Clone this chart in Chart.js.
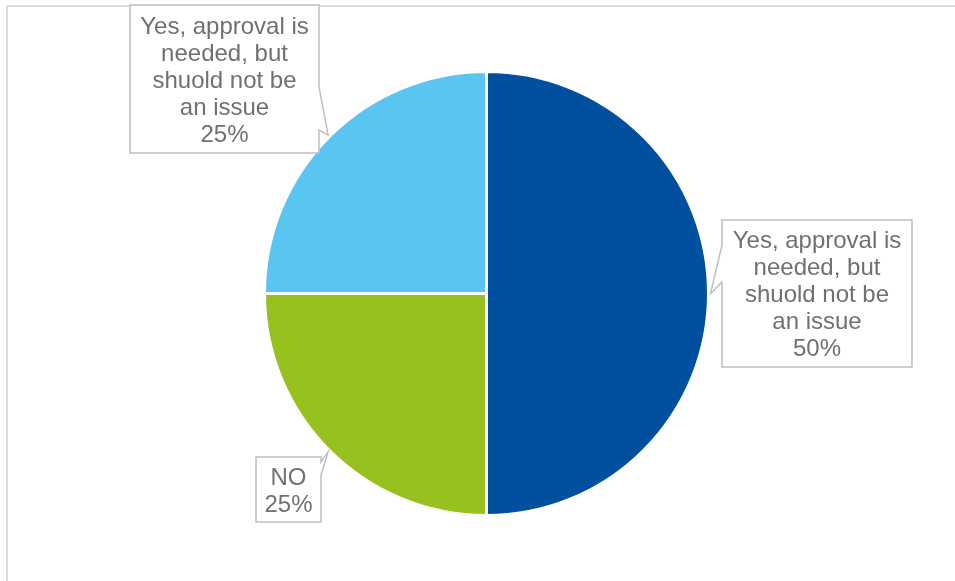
<!DOCTYPE html>
<html>
<head>
<meta charset="utf-8">
<script src="https://cdn.jsdelivr.net/npm/chart.js@4.4.1/dist/chart.umd.min.js"></script>
<style>
  html, body { margin: 0; padding: 0; background: #fff; }
  #wrap { position: relative; width: 955px; height: 581px; }
</style>
</head>
<body>
<div id="wrap"><canvas id="pie" width="955" height="581"></canvas></div>
<script>
// slice data, clockwise from 12 o'clock
const labels = [
  'Yes, approval is needed, but shuold not be an issue',
  'NO',
  'Yes, approval is needed, but shuold not be an issue'
];
const values = [50, 25, 25];
const colors = ['#00509F', '#96C11F', '#5BC5F2'];
// wrapped label text as shown in each callout
const calloutLines = [
  ['Yes, approval is', 'needed, but', 'shuold not be', 'an issue'],
  ['NO'],
  ['Yes, approval is', 'needed, but', 'shuold not be', 'an issue']
];

// callout boxes (layout only): rect + the edge segment where the pointer leaves
const boxes = [
  { x: 722, y: 220, w: 190, h: 147, side: 'left',  n1: 245, n2: 282 },
  { x: 256, y: 457, w: 65,  h: 65,  side: 'right', n1: 462, n2: 475 },
  { x: 130, y: 5,   w: 189, h: 148, side: 'right', n1: 87,  n2: 130 }
];

const frame = {
  id: 'frame',
  beforeDraw(chart) {
    const c = chart.ctx;
    c.save();
    c.strokeStyle = '#DEDEDE';
    c.lineWidth = 2;
    c.strokeRect(7, 6, 1200, 1200);
    c.restore();
  }
};

const callouts = {
  id: 'callouts',
  afterDraw(chart) {
    const c = chart.ctx;
    const meta = chart.getDatasetMeta(0);
    meta.data.forEach((arc, i) => {
      const p = arc.getProps(['x', 'y', 'startAngle', 'endAngle', 'outerRadius'], true);
      const mid = (p.startAngle + p.endAngle) / 2;
      const tx = p.x + Math.cos(mid) * (p.outerRadius + 2);
      const ty = p.y + Math.sin(mid) * (p.outerRadius + 2);
      const b = boxes[i];
      c.save();
      c.beginPath();
      if (b.side === 'left') {
        c.moveTo(b.x, b.y);
        c.lineTo(b.x + b.w, b.y);
        c.lineTo(b.x + b.w, b.y + b.h);
        c.lineTo(b.x, b.y + b.h);
        c.lineTo(b.x, b.n2);
        c.lineTo(tx, ty);
        c.lineTo(b.x, b.n1);
      } else {
        c.moveTo(b.x, b.y);
        c.lineTo(b.x + b.w, b.y);
        c.lineTo(b.x + b.w, b.n1);
        c.lineTo(tx, ty);
        c.lineTo(b.x + b.w, b.n2);
        c.lineTo(b.x + b.w, b.y + b.h);
        c.lineTo(b.x, b.y + b.h);
      }
      c.closePath();
      c.fillStyle = '#fff';
      c.fill();
      c.strokeStyle = '#BFBFBF';
      c.lineWidth = 1.5;
      c.stroke();

      const lines = calloutLines[i].concat([values[i] + '%']);
      const lh = 27;
      const cy = b.y + b.h / 2 + 2;
      c.fillStyle = '#707070';
      c.font = '24px "Liberation Sans", Arial, sans-serif';
      c.textAlign = 'center';
      c.textBaseline = 'middle';
      lines.forEach((t, k) => {
        c.fillText(t, b.x + b.w / 2, cy + (k - (lines.length - 1) / 2) * lh);
      });
      c.restore();
    });
  }
};

new Chart(document.getElementById('pie'), {
  type: 'pie',
  data: {
    labels: labels,
    datasets: [{
      data: values,
      backgroundColor: colors,
      borderColor: '#ffffff',
      borderWidth: 3
    }]
  },
  options: {
    responsive: false,
    animation: false,
    layout: { padding: { top: 70, bottom: 64, left: 263, right: 245 } },
    plugins: {
      legend: { display: false },
      tooltip: { enabled: false }
    }
  },
  plugins: [frame, callouts]
});
</script>
</body>
</html>
